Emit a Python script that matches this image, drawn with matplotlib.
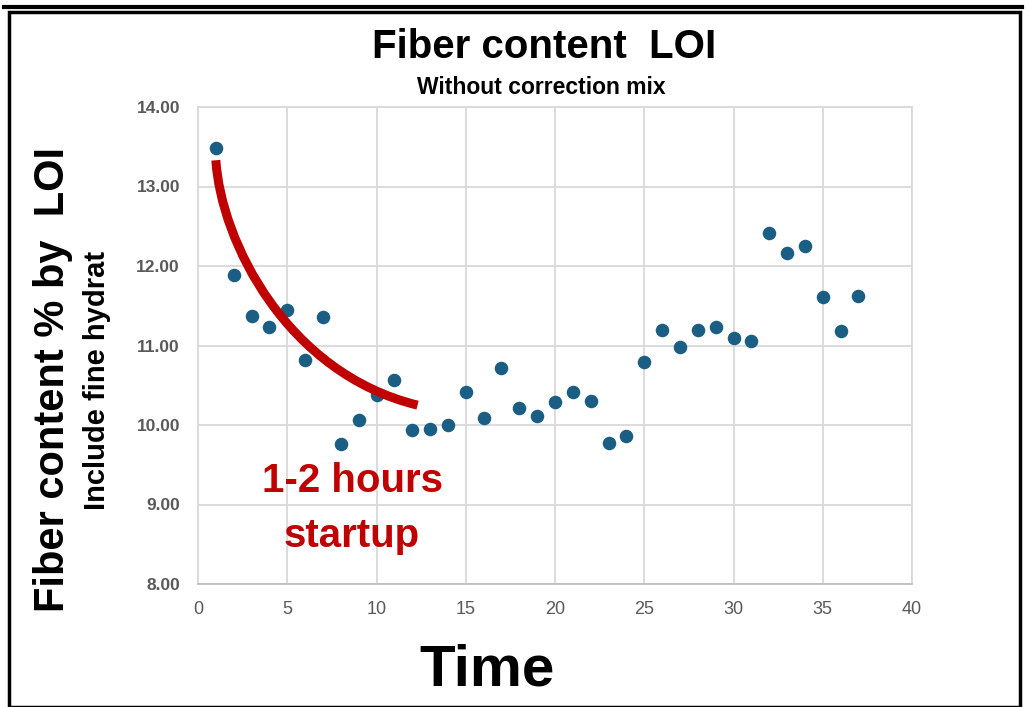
import matplotlib
matplotlib.use("Agg")
import matplotlib.pyplot as plt
from matplotlib.path import Path
from matplotlib.patches import PathPatch, Rectangle
from matplotlib.lines import Line2D

# ---- data ----
time = list(range(1, 38))
fiber_loi = [13.48, 11.89, 11.37, 11.23, 11.45, 10.82, 11.36, 9.76, 10.06, 10.38,
             10.57, 9.94, 9.95, 10.00, 10.42, 10.09, 10.72, 10.21, 10.11, 10.29,
             10.42, 10.30, 9.77, 9.86, 10.79, 11.19, 10.98, 11.20, 11.23, 11.09,
             11.06, 12.42, 12.16, 12.25, 11.61, 11.18, 11.62]
x_ticks = [0, 5, 10, 15, 20, 25, 30, 35, 40]
y_ticks = [8, 9, 10, 11, 12, 13, 14]
y_tick_labels = ["8.00", "9.00", "10.00", "11.00", "12.00", "13.00", "14.00"]

# hand-drawn start-up curve (bezier anchors, data units)
curve_x = [1.0, 1.3, 5.0, 12.3]
curve_y = [13.33, 12.3, 10.65, 10.25]

title = "Fiber content  LOI"
subtitle = "Without correction mix"
ylabel_main = "Fiber content % by  LOI"
ylabel_sub = "Include fine hydrat"
xlabel = "Time"
note_lines = ["1-2 hours", "startup"]

narrow = ["Liberation Sans Narrow", "Liberation Sans", "DejaVu Sans"]
arial = ["Liberation Sans", "DejaVu Sans"]

W, H = 1031, 707
fig = plt.figure(figsize=(W / 100, H / 100), dpi=100)
fig.patch.set_facecolor("white")

ax = fig.add_axes([198 / W, 1 - 584 / H, (912 - 198) / W, (584 - 107) / H])
ax.set_xlim(0, 40)
ax.set_ylim(8, 14)
ax.set_xticks(x_ticks)
ax.set_yticks(y_ticks)
ax.set_yticklabels(y_tick_labels)
ax.grid(True, color="#D9D9D9", linewidth=1.3)
ax.set_axisbelow(True)
for s in ["left", "right", "top"]:
    ax.spines[s].set_color("#D9D9D9")
    ax.spines[s].set_linewidth(1.3)
ax.spines["bottom"].set_color("#BFBFBF")
ax.spines["bottom"].set_linewidth(1.3)
ax.tick_params(length=0)
ax.tick_params(axis="y", pad=13)
ax.tick_params(axis="x", pad=12)
for lbl in ax.get_yticklabels():
    lbl.set_fontfamily(arial)
    lbl.set_fontweight("bold")
    lbl.set_fontsize(12.5)
    lbl.set_color("#595959")
for lbl in ax.get_xticklabels():
    lbl.set_fontfamily(narrow)
    lbl.set_fontsize(13)
    lbl.set_color("#595959")

ax.scatter(time, fiber_loi, s=95, color="#1B5E84", zorder=3, linewidths=0)

verts = list(zip(curve_x, curve_y))
path = Path(verts, [Path.MOVETO, Path.CURVE4, Path.CURVE4, Path.CURVE4])
ax.add_patch(PathPatch(path, facecolor="none", edgecolor="#C00000",
                       linewidth=6.5, capstyle="butt", zorder=4))

ax.text(8.63, 9.29, note_lines[0], color="#C00000", fontsize=29, fontweight="bold",
        family=arial, ha="center", va="center", zorder=5)
ax.text(8.63, 8.60, note_lines[1], color="#C00000", fontsize=29, fontweight="bold",
        family=arial, ha="center", va="center", zorder=5)

# titles
fig.text(544 / W, 1 - 47 / H, title, fontsize=29, fontweight="bold",
         family=narrow, ha="center", va="center")
fig.text(541 / W, 1 - 88 / H, subtitle, fontsize=16.5, fontweight="bold",
         family=narrow, ha="center", va="center")
fig.text(53 / W, 1 - 379 / H, ylabel_main, fontsize=30, fontweight="bold",
         family=arial, ha="center", va="center", rotation=90)
fig.text(97 / W, 1 - 380 / H, ylabel_sub, fontsize=21, fontweight="bold",
         family=arial, ha="center", va="center", rotation=90)
fig.text(487 / W, 1 - 671 / H, xlabel, fontsize=42, fontweight="bold",
         family=narrow, ha="center", va="center")

# frame
fig.add_artist(Rectangle((9 / W, 0), (1020 - 9) / W, 1 - 12 / H, transform=fig.transFigure,
                         fill=False, edgecolor="black", linewidth=2.5))
fig.add_artist(Line2D([4 / W, 1022 / W], [1 - 7 / H, 1 - 7 / H], transform=fig.transFigure,
                      color="black", linewidth=3))

fig.savefig("out.png", dpi=100)
